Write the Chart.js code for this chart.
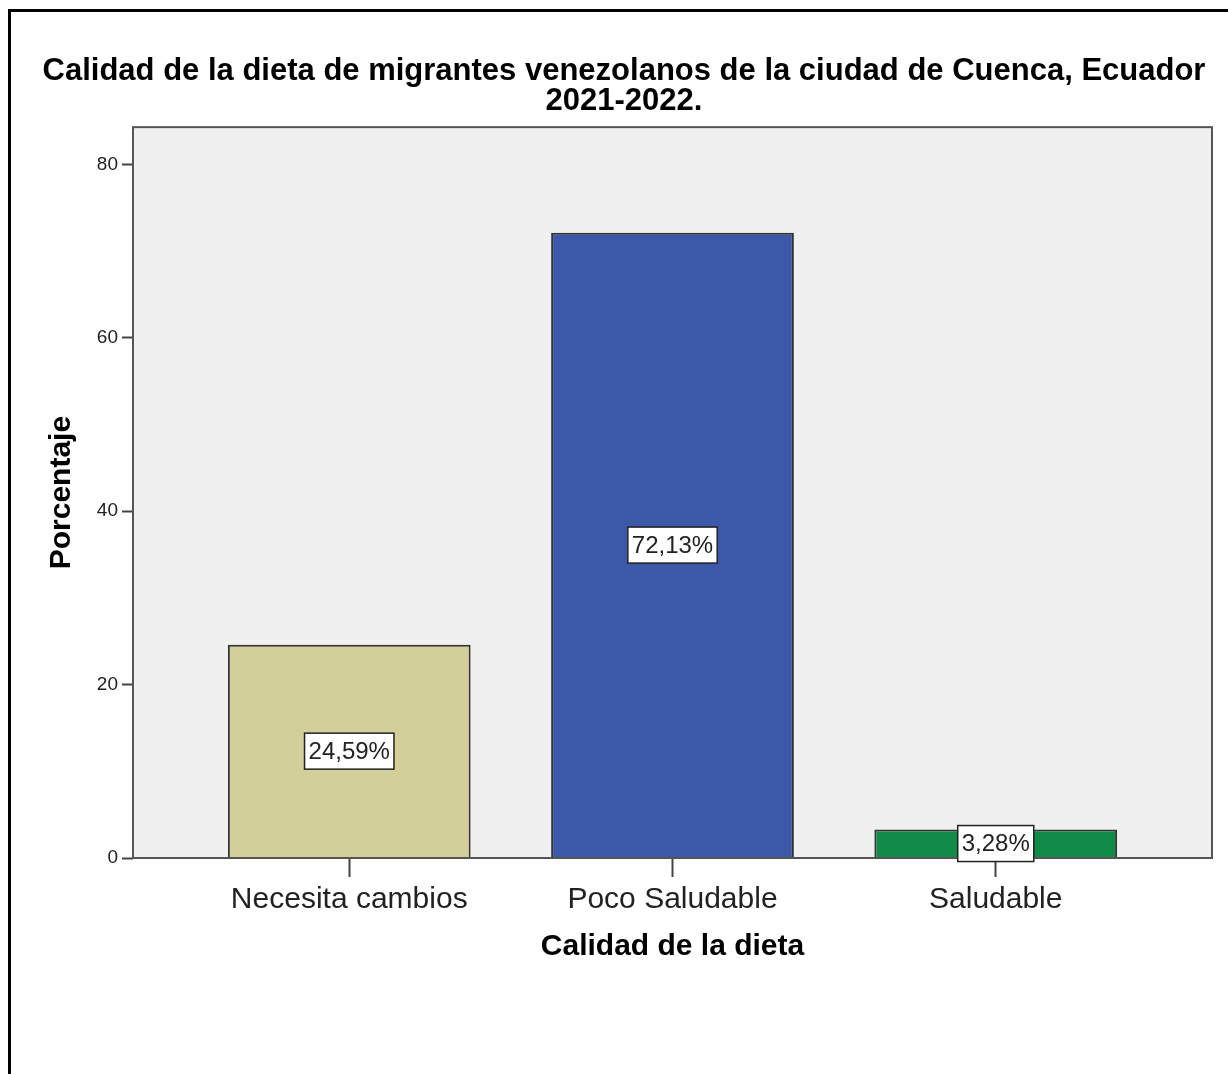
<!DOCTYPE html>
<html>
<head>
<meta charset="utf-8">
<script src="https://cdn.jsdelivr.net/npm/chart.js@4.4.1/dist/chart.umd.min.js"></script>
<style>
  body { margin: 0; background: #fff; }
  #wrap { position: relative; width: 1228px; height: 1074px; }
</style>
</head>
<body>
<div id="wrap"><canvas id="myChart" width="1228" height="1074"></canvas></div>
<script>
var categories = ['Necesita cambios', 'Poco Saludable', 'Saludable'];
var percents = [24.59, 72.13, 3.28];
var valueLabels = ['24,59%', '72,13%', '3,28%'];
var yTicks = [0, 20, 40, 60, 80];
var barColors = ['#d3cf98', '#3d58a8', '#128a48'];

// frame + grey plot background
var backdrop = {
    id: 'backdrop',
    beforeDraw: function (chart) {
        var ctx = chart.ctx, a = chart.chartArea;
        ctx.save();
        ctx.fillStyle = '#000';
        ctx.fillRect(8, 9, 1228 - 8, 3);
        ctx.fillRect(8, 9, 3, 1074 - 9);
        ctx.fillStyle = '#f0f0f0';
        ctx.fillRect(a.left, a.top, a.right - a.left, a.bottom - a.top);
        ctx.restore();
    },
    afterDatasetsDraw: function (chart) {
        var ctx = chart.ctx, a = chart.chartArea;
        ctx.save();
        ctx.strokeStyle = '#555';
        ctx.lineWidth = 2;
        ctx.strokeRect(a.left, a.top, a.right - a.left, a.bottom - a.top);
        // boxed value labels
        var meta = chart.getDatasetMeta(0);
        ctx.font = '24px "Liberation Sans", Arial, sans-serif';
        ctx.textAlign = 'center';
        ctx.textBaseline = 'middle';
        meta.data.forEach(function (bar, i) {
            var cy = (bar.y + bar.base) / 2;
            var w = ctx.measureText(valueLabels[i]).width + 8;
            var h = 36;
            ctx.fillStyle = '#fff';
            ctx.fillRect(bar.x - w / 2, cy - h / 2, w, h);
            ctx.strokeStyle = '#222';
            ctx.lineWidth = 1.5;
            ctx.strokeRect(bar.x - w / 2, cy - h / 2, w, h);
            ctx.fillStyle = '#222';
            ctx.fillText(valueLabels[i], bar.x, cy + 1);
        });
        ctx.restore();
    }
};

var ctx = document.getElementById('myChart').getContext('2d');
var chart = new Chart(ctx, {
    type: 'bar',
    data: {
        datasets: [{
            data: percents.map(function (v, i) { return { x: i, y: v }; }),
            backgroundColor: barColors,
            borderColor: '#333',
            borderWidth: 2,
            barPercentage: 0.751,
            categoryPercentage: 1
        }]
    },
    options: {
        responsive: false,
        animation: false,
        layout: { padding: { left: 36, right: 16, top: 0, bottom: 0 } },
        plugins: {
            legend: { display: false },
            tooltip: { enabled: false },
            title: {
                display: true,
                text: ['Calidad de la dieta de migrantes venezolanos de la ciudad de Cuenca, Ecuador', '2021-2022.'],
                color: '#000',
                font: { family: '"Liberation Sans", Arial, sans-serif', size: 31, weight: 'bold', lineHeight: 0.97 },
                padding: { top: 56, bottom: 11 }
            }
        },
        scales: {
            x: {
                type: 'linear',
                offset: false,
                min: -0.669,
                max: 2.669,
                afterBuildTicks: function (axis) {
                    axis.ticks = categories.map(function (c, i) { return { value: i }; });
                },
                afterFit: function (axis) { axis.height = 216; },
                ticks: {
                    color: '#222',
                    font: { family: '"Liberation Sans", Arial, sans-serif', size: 30 },
                    padding: 5,
                    maxRotation: 0,
                    autoSkip: false,
                    callback: function (v) { return categories[v]; }
                },
                grid: { offset: false, drawOnChartArea: false, tickLength: 19, tickColor: '#444', tickWidth: 2 },
                border: { display: false },
                title: {
                    display: true,
                    text: 'Calidad de la dieta',
                    color: '#000',
                    font: { family: '"Liberation Sans", Arial, sans-serif', size: 30, weight: 'bold', lineHeight: 1.2 },
                    padding: { top: 0, bottom: 109 }
                }
            },
            y: {
                min: 0,
                max: 84.3,
                afterBuildTicks: function (axis) {
                    axis.ticks = yTicks.map(function (v) { return { value: v }; });
                },
                afterFit: function (axis) { axis.width = 97; },
                ticks: {
                    color: '#222',
                    font: { family: '"Liberation Sans", Arial, sans-serif', size: 19 },
                    padding: 4
                },
                grid: { drawOnChartArea: false, tickLength: 11, tickColor: '#444', tickWidth: 2 },
                border: { display: false },
                title: {
                    display: true,
                    text: 'Porcentaje',
                    color: '#000',
                    font: { family: '"Liberation Sans", Arial, sans-serif', size: 30, weight: 'bold', lineHeight: 1.2 },
                    padding: { top: 8, bottom: 0 }
                }
            }
        }
    },
    plugins: [backdrop]
});
</script>
</body>
</html>
